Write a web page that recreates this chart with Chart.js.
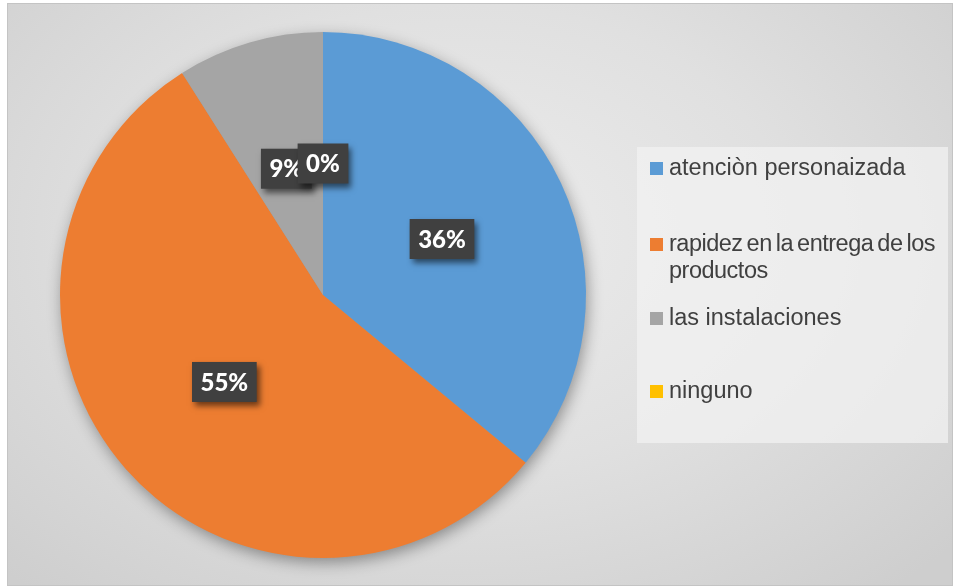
<!DOCTYPE html>
<html>
<head>
<meta charset="utf-8">
<script src="https://cdn.jsdelivr.net/npm/chart.js@4.4.0/dist/chart.umd.min.js"></script>
<style>
  html, body { margin: 0; padding: 0; background: #fff; }
  #frame {
    position: absolute; left: 7px; top: 3px; width: 944px; height: 581px;
    border: 1px solid #c4c4c4;
    background: radial-gradient(ellipse 70% 80% at 48% 40%, #ececec 0%, #e0e0e0 50%, #cecece 100%);
  }
  #chart { position: absolute; left: 0; top: 0; }
  #legend {
    position: absolute; left: 637px; top: 147px; width: 311px; height: 296px;
    background: rgba(242, 242, 242, 0.75);
  }
  .item {
    position: absolute; left: 13px; display: flex; align-items: flex-start;
    font-family: "Liberation Sans", Arial, sans-serif; font-size: 23.5px;
    color: #404040; line-height: 27px;
  }
  .item i { display: block; width: 13px; height: 13px; margin: 8px 6px 0 0; flex: none; }
  .item span { width: 276px; }
  .item.tight span { word-spacing: -2px; letter-spacing: -0.5px; }
</style>
</head>
<body>
<div id="frame"></div>
<canvas id="chart" width="955" height="588"></canvas>
<div id="legend"></div>
<script>
const categories = ['atenciòn personaizada', 'rapidez en la entrega de los productos', 'las instalaciones', 'ninguno'];
const percents = [36, 55, 9, 0];
const colors = ['#5B9BD5', '#ED7D31', '#A5A5A5', '#FFC000'];
const legendTops = [7, 83, 157, 230];

// soft shadow under the whole pie
const pieShadow = {
  id: 'pieShadow',
  beforeDatasetsDraw(chart) {
    const arc = chart.getDatasetMeta(0).data[0];
    const ctx = chart.ctx;
    ctx.save();
    ctx.shadowColor = 'rgba(0,0,0,0.4)';
    ctx.shadowBlur = 16;
    ctx.shadowOffsetX = 2;
    ctx.shadowOffsetY = 5;
    ctx.fillStyle = '#999';
    ctx.beginPath();
    ctx.arc(arc.x, arc.y, arc.outerRadius - 1, 0, Math.PI * 2);
    ctx.fill();
    ctx.restore();
  }
};

// dark percentage boxes at the middle of each slice
const valueBoxes = {
  id: 'valueBoxes',
  afterDatasetsDraw(chart) {
    const ctx = chart.ctx;
    const meta = chart.getDatasetMeta(0);
    const values = chart.data.datasets[0].data;
    ctx.save();
    ctx.font = '900 24px Lato, "Open Sans", sans-serif';
    ctx.textAlign = 'center';
    ctx.textBaseline = 'middle';
    meta.data.forEach((arc, i) => {
      const pos = arc.tooltipPosition();
      const text = values[i] + '%';
      const w = ctx.measureText(text).width + 17;
      const h = 40;
      ctx.shadowColor = 'rgba(0,0,0,0.55)';
      ctx.shadowBlur = 6;
      ctx.shadowOffsetX = 3;
      ctx.shadowOffsetY = 4;
      ctx.fillStyle = '#404040';
      ctx.fillRect(pos.x - w / 2, pos.y - h / 2, w, h);
      ctx.shadowColor = 'transparent';
      ctx.fillStyle = '#ffffff';
      ctx.fillText(text, pos.x, pos.y + 1);
    });
    ctx.restore();
  }
};

new Chart(document.getElementById('chart'), {
  type: 'pie',
  data: {
    labels: categories,
    datasets: [{
      data: percents,
      backgroundColor: colors,
      borderWidth: 0
    }]
  },
  options: {
    responsive: false,
    animation: false,
    layout: { padding: { left: 60, right: 369, top: 32, bottom: 30 } },
    plugins: {
      legend: { display: false },
      tooltip: { enabled: false }
    }
  },
  plugins: [pieShadow, valueBoxes]
});

const legend = document.getElementById('legend');
categories.forEach((name, i) => {
  const row = document.createElement('div');
  row.className = name.length > 30 ? 'item tight' : 'item';
  row.style.top = legendTops[i] + 'px';
  const sw = document.createElement('i');
  sw.style.background = colors[i];
  const label = document.createElement('span');
  label.textContent = name;
  row.appendChild(sw);
  row.appendChild(label);
  legend.appendChild(row);
});
</script>
</body>
</html>
